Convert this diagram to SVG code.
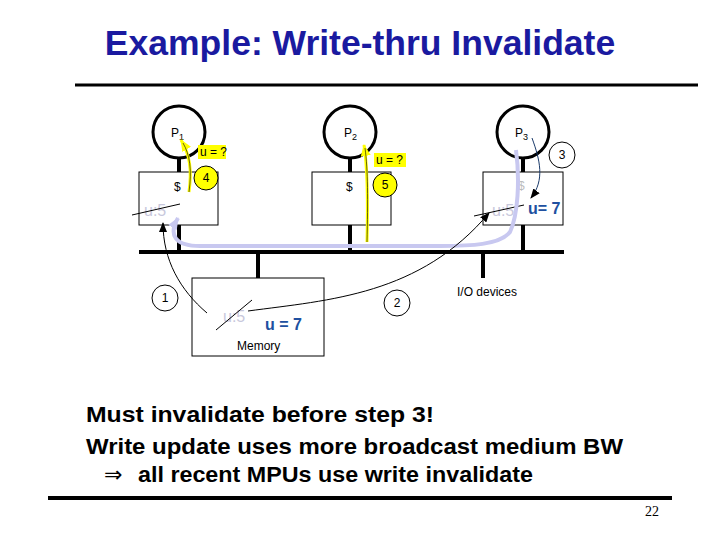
<svg xmlns="http://www.w3.org/2000/svg" width="720" height="540" viewBox="0 0 720 540">
<style>
.t{font-family:"Liberation Sans",Arial,sans-serif}
.proc{fill:none;stroke:#000;stroke-width:3}
.box{fill:#fff;stroke:#000;stroke-width:1}
.thick{stroke:#000;stroke-width:4}
.lbl{font-family:"Liberation Sans",Arial,sans-serif;font-size:12px}
.num{fill:#fff;stroke:#000;stroke-width:1}
.ynum{fill:#ffff00;stroke:#000;stroke-width:1}
.grey{font-family:"Liberation Sans",Arial,sans-serif;font-size:16px;fill:#c8c8dc}
.blue{font-family:"Liberation Sans",Arial,sans-serif;font-size:16px;font-weight:bold;fill:#2050a0}
.strike{stroke:#000;stroke-width:1}
</style>
<defs>
<marker id="ah" markerWidth="10" markerHeight="8" refX="9" refY="4" orient="auto" markerUnits="userSpaceOnUse"><path d="M0,0 L10,4 L0,8 z" fill="#000"/></marker>
<marker id="ay" markerWidth="12" markerHeight="10" refX="11" refY="5" orient="auto" markerUnits="userSpaceOnUse"><path d="M0,0 L12,5 L0,10 z" fill="#ffff00"/></marker>
<marker id="al" markerWidth="12" markerHeight="10" refX="11" refY="5" orient="auto" markerUnits="userSpaceOnUse"><path d="M0,0 L12,5 L0,10 z" fill="#c8c8f0"/></marker>
</defs>
<rect width="720" height="540" fill="#fff"/>
<text class="t" x="360" y="55" text-anchor="middle" font-size="35.5" font-weight="bold" fill="#1a1aa0">Example: Write-thru Invalidate</text>
<line x1="75" y1="85" x2="698" y2="85" stroke="#000" stroke-width="3"/>

<g id="bus">
<line class="thick" x1="139" y1="252" x2="564" y2="252"/>
<line class="thick" x1="179" y1="225" x2="179" y2="252"/>
<line class="thick" x1="350" y1="225" x2="350" y2="252"/>
<line class="thick" x1="523" y1="225" x2="523" y2="252"/>
<line class="thick" x1="258" y1="252" x2="258" y2="278"/>
<line class="thick" x1="483" y1="252" x2="483" y2="278"/>
</g>

<g id="p1">
<line class="thick" x1="179" y1="159" x2="179" y2="172"/>
<circle class="proc" cx="179" cy="132" r="26"/>
<text class="lbl" x="171" y="137">P<tspan font-size="9" dy="3">1</tspan></text>
<rect class="box" x="139" y="172" width="79" height="53"/>
<text class="lbl" x="174" y="191">$</text>
</g>
<g id="p2">
<line class="thick" x1="350" y1="159" x2="350" y2="172"/>
<circle class="proc" cx="350" cy="132" r="26"/>
<text class="lbl" x="344" y="137">P<tspan font-size="9" dy="3">2</tspan></text>
<rect class="box" x="312" y="172" width="79" height="53"/>
<text class="lbl" x="346" y="191">$</text>
</g>
<g id="p3">
<line class="thick" x1="523" y1="159" x2="523" y2="172"/>
<circle class="proc" cx="523" cy="132" r="26"/>
<text class="lbl" x="515" y="137">P<tspan font-size="9" dy="3">3</tspan></text>
<rect class="box" x="483" y="172" width="80" height="53"/>
<text class="lbl" x="518" y="190" fill="#bbb">$</text>
</g>
<g id="memory">
<rect class="box" x="192" y="278" width="132" height="78"/>
<text class="lbl" x="237" y="350" font-size="11">Memory</text>
</g>
<g id="io"><text class="lbl" x="457" y="296" font-size="11">I/O devices</text></g>

<g id="values">
<rect x="198" y="145" width="28" height="14" fill="#ffff00"/>
<text class="lbl" x="200" y="156">u = ?</text>
<rect x="374" y="153" width="32" height="14" fill="#ffff00"/>
<text class="lbl" x="376" y="164">u = ?</text>
<text class="grey" x="144" y="216">u:5</text>
<line class="strike" x1="132" y1="215" x2="180" y2="204"/>
<text class="grey" x="223" y="322">u:5</text>
<line class="strike" x1="216" y1="330" x2="252" y2="300"/>
<text class="blue" x="265" y="330">u = 7</text>
<text class="grey" x="492" y="216">u:5</text>
<text class="blue" x="528" y="214">u= 7</text>
<line class="strike" x1="474" y1="216" x2="524" y2="205"/>
</g>

<g id="connectors" fill="none">
<path d="M516,150 C520,180 518,215 510,232 C500,245 470,246 440,246 L200,246 C175,246 168,235 178,218" stroke="#c8c8f0" stroke-width="4" marker-end="url(#al)"/>
<path d="M207,313 C180,290 163,260 163,223" stroke="#000" stroke-width="1" marker-end="url(#ah)"/>
<path d="M248,311 C330,300 420,295 489,213" stroke="#000" stroke-width="1" marker-end="url(#ah)"/>
<path d="M532,138 C540,160 545,180 531,198" stroke="#1a3a6a" stroke-width="1" marker-end="url(#ah)"/>
<path d="M189,192 C192,170 190,155 181,140" stroke="#ffff00" stroke-width="3" marker-end="url(#ay)"/>
<path d="M367,242 C368,200 368,170 364,145" stroke="#ffff00" stroke-width="3" marker-end="url(#ay)"/>
<path d="M189,192 C192,170 190,155 183,143" stroke="#000" stroke-width="0.6"/>
<path d="M367,242 C368,200 368,170 365,148" stroke="#000" stroke-width="0.6"/>
</g>

<g id="steps">
<circle class="num" cx="165" cy="298" r="13"/><text class="lbl" x="165" y="302" text-anchor="middle">1</text>
<circle class="num" cx="397" cy="303" r="13"/><text class="lbl" x="397" y="307" text-anchor="middle">2</text>
<circle class="num" cx="562" cy="155" r="13"/><text class="lbl" x="562" y="159" text-anchor="middle">3</text>
<circle class="ynum" cx="206" cy="178" r="12"/><text class="lbl" x="206" y="182" text-anchor="middle">4</text>
<circle class="ynum" cx="385" cy="185" r="12"/><text class="lbl" x="385" y="189" text-anchor="middle">5</text>
</g>

<g id="notes" class="t" font-size="22" font-weight="bold">
<text x="86" y="422" textLength="348" lengthAdjust="spacingAndGlyphs">Must invalidate before step 3!</text>
<text x="86" y="454" textLength="537" lengthAdjust="spacingAndGlyphs">Write update uses more broadcast medium BW</text>
<text x="104" y="482" font-family="DejaVu Sans,sans-serif" font-weight="normal" font-size="22">⇒</text>
<text x="138" y="482" textLength="395" lengthAdjust="spacingAndGlyphs">all recent MPUs use write invalidate</text>
</g>
<line x1="48" y1="498" x2="672" y2="498" stroke="#000" stroke-width="4"/>
<text x="645" y="516" font-family="Liberation Serif,serif" font-size="14">22</text>
</svg>
